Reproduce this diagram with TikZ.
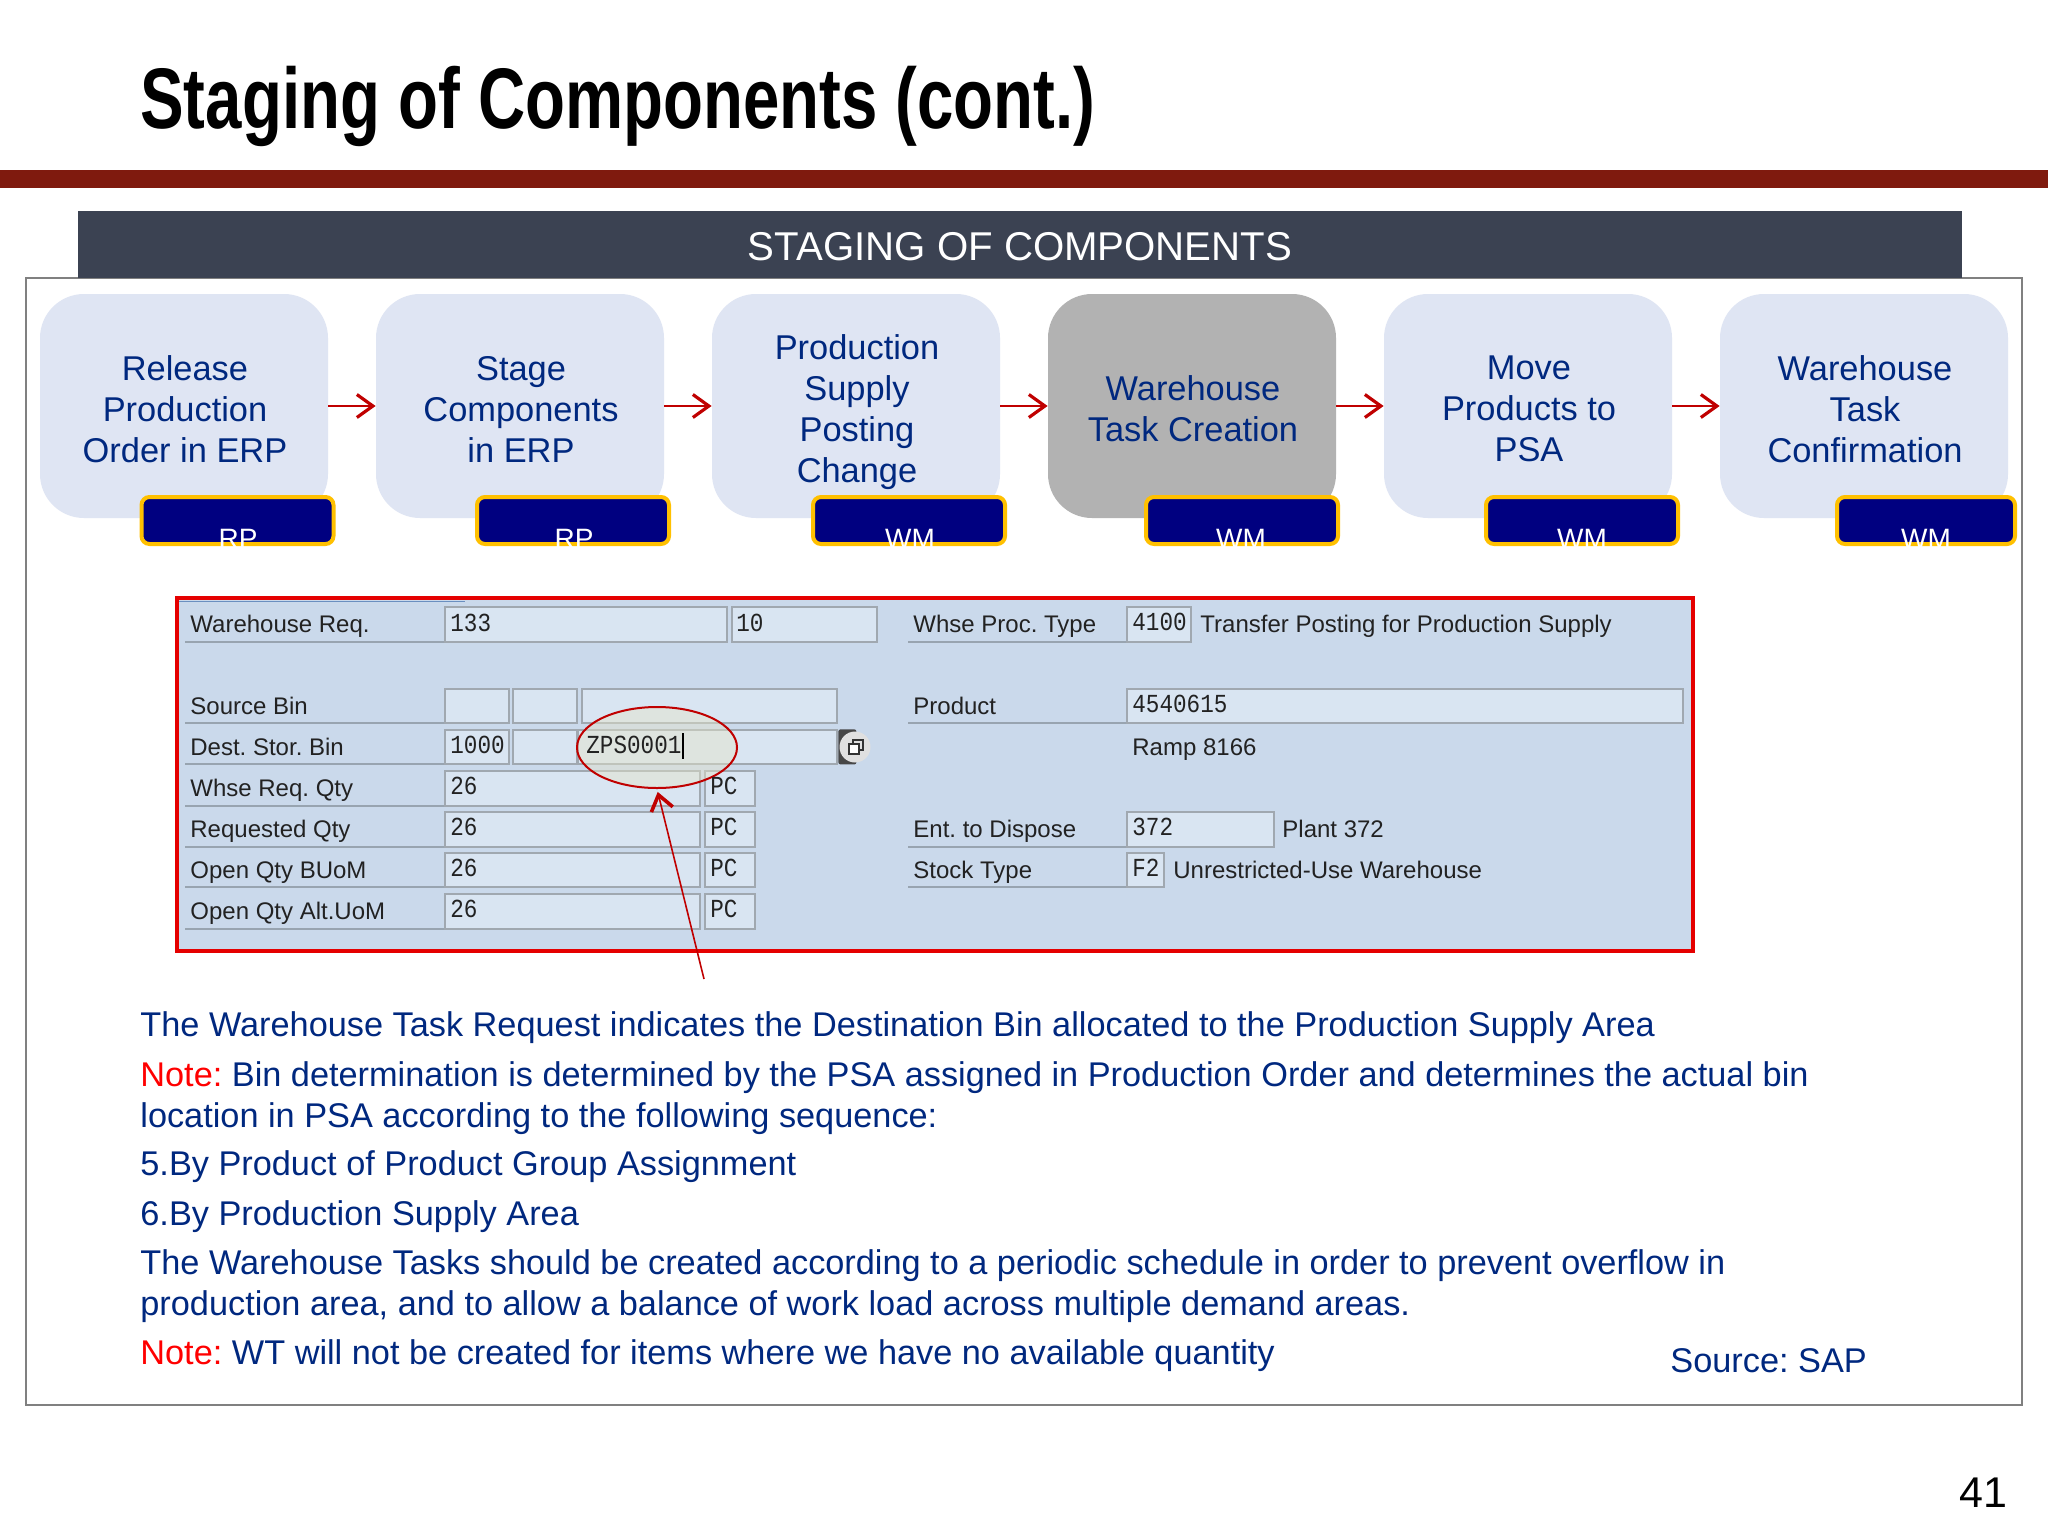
\documentclass[tikz,border=0pt]{standalone}
\usepackage{fontspec}
\setmainfont{Liberation Sans}
\newfontfamily\titlefont[FakeStretch=0.76]{Liberation Sans Bold}
\newfontfamily\monofont[FakeStretch=0.87]{Liberation Mono}
\usetikzlibrary{arrows.meta,shapes.geometric}
\definecolor{txtblue}{HTML}{00287F}
\definecolor{darkred}{HTML}{7F1A0E}
\definecolor{headbg}{HTML}{3B4252}
\definecolor{boxbg}{HTML}{DFE5F3}
\definecolor{boxgray}{HTML}{B2B2B2}
\definecolor{badgebg}{HTML}{000080}
\definecolor{badgeln}{HTML}{FFC000}
\definecolor{arrowred}{HTML}{C00000}
\definecolor{panelbg}{HTML}{CAD9EB}
\definecolor{fieldbg}{HTML}{D9E5F2}
\definecolor{fieldln}{HTML}{A0A8B0}
\definecolor{labln}{HTML}{98A4B0}
\definecolor{sapblack}{HTML}{222222}
\definecolor{framegray}{HTML}{808080}
\definecolor{stripblue}{HTML}{6A8FC0}
\tikzset{
  procbox/.style={rectangle,rounded corners=22pt,fill=boxbg,minimum width=144pt,minimum height=112pt,inner sep=0pt},
  proctxt/.style={text=txtblue,align=center,inner sep=0pt,font=\fontsize{17.2pt}{20.5pt}\selectfont},
  badge/.style={rectangle,rounded corners=4pt,fill=badgebg,draw=badgeln,line width=2pt,inner sep=0pt,anchor=north west},
  badgetxt/.style={text=white,anchor=base,inner sep=0pt,font=\fontsize{14pt}{14pt}\selectfont},
  flow/.style={draw=arrowred,line width=1.2pt,-{Straight Barb[length=8pt,width=11.5pt,line width=1.6pt]}},
  field/.style={rectangle,fill=fieldbg,draw=fieldln,line width=0.9pt,inner sep=0pt,anchor=north west},
  lab/.style={text=sapblack,anchor=base west,inner sep=0pt,font=\fontsize{12pt}{12pt}\selectfont},
  val/.style={text=sapblack,anchor=base west,inner sep=0pt,font=\monofont\fontsize{13pt}{13pt}\selectfont},
  labline/.style={draw=labln,line width=0.9pt},
  body/.style={text=txtblue,anchor=base west,inner sep=0pt,font=\fontsize{17.15pt}{20pt}\selectfont},
}
\newcommand\fld[5]{\node[field,minimum width={(#4-#2-0.6)*0.5pt},minimum height={(#5-#3-1.2)*0.5pt}] (#1) at (#2,#3) {};}
\begin{document}
\frenchspacing
\begin{tikzpicture}[x=0.5pt,y=-0.5pt]
\useasboundingbox (0,0) rectangle (2048,1536);
\fill[white] (0,0) rectangle (2048,1536);
% title
\node[anchor=base west,inner sep=0pt,font=\titlefont\fontsize{43pt}{46pt}\selectfont,text=black] (title) at (140,128) {Staging of Components (cont.)};
\fill[darkred] (0,170) rectangle (2048,188);
% frame + header
\draw[framegray,line width=0.8pt] (26,278) rectangle (2022,1405);
\node[rectangle,fill=headbg,minimum width=942pt,minimum height=33.5pt,inner sep=0pt] (head) at (1020,244.5) {};
\node[text=white,inner sep=0pt,font=\fontsize{20.1pt}{22pt}\selectfont] (headt) at (1020,247) {STAGING OF COMPONENTS};
% process boxes
\node[procbox] (b1) at (184,406) {};
\node[procbox] (b2) at (520,406) {};
\node[procbox] (b3) at (856,406) {};
\node[procbox,fill=boxgray] (b4) at (1192,406) {};
\node[procbox] (b5) at (1528,406) {};
\node[procbox] (b6) at (1864,406) {};
\node[proctxt] (bt1) at (185,409) {Release\\Production\\Order in ERP};
\node[proctxt] (bt2) at (521,409) {Stage\\Components\\in ERP};
\node[proctxt] (bt3) at (857,412) {Production\\Supply\\Posting\\Change};
\node[proctxt] (bt4) at (1193,409) {Warehouse\\Task Creation};
\node[proctxt] (bt5) at (1529,409) {Move\\Products to\\PSA};
\node[proctxt] (bt6) at (1865,409) {Warehouse\\Task\\Confirmation};
\foreach \a/\b in {b1/b2,b2/b3,b3/b4,b4/b5,b5/b6} \draw[flow] (\a.east) -- (\b.west);
% badges
\node[badge,minimum width=96pt,minimum height=23.5pt] (r1) at (139.5,495) {};
\node[badge,minimum width=96pt,minimum height=23.5pt] (r2) at (475,495) {};
\node[badge,minimum width=96pt,minimum height=23.5pt] (r3) at (811,495) {};
\node[badge,minimum width=96pt,minimum height=23.5pt] (r4) at (1144,495) {};
\node[badge,minimum width=96pt,minimum height=23.5pt] (r5) at (1484,495) {};
\node[badge,minimum width=89pt,minimum height=23.5pt] (r6) at (1835,495) {};
\node[badgetxt] (t1) at (238,548) {RP};
\node[badgetxt] (t2) at (574,548) {RP};
\node[badgetxt] (t3) at (910,548) {WM};
\node[badgetxt] (t4) at (1241,548) {WM};
\node[badgetxt] (t5) at (1582,548) {WM};
\node[badgetxt] (t6) at (1926,548) {WM};
% panel
\node[rectangle,draw=red!90!black,line width=2pt,fill=panelbg,inner sep=0pt,anchor=north west,minimum width=758.25pt,minimum height=176.5pt] (panel) at (174.5,596) {};
\draw[draw=stripblue,line width=0.5pt] (179,601) -- (465,601);
% left label lines
\foreach \y in {642,723,764,806,847,887,929} \draw[labline] (185,\y) -- (444,\y);
\foreach \y in {642,723,847,887} \draw[labline] (908,\y) -- (1126,\y);
% left fields
\fld{f1}{444}{606}{727}{642}
\fld{f2}{731}{606}{877}{642}
\fld{f3}{444}{688}{509}{723}
\fld{f4}{512}{688}{577}{723}
\fld{f5}{581}{688}{837}{723}
\fld{f6}{444}{729}{509}{764}
\fld{f7}{512}{729}{577}{764}
\fld{f8}{577}{729}{837}{764}
\fld{f9}{444}{770}{700}{806}
\fld{f10}{704}{770}{755}{806}
\fld{f11}{444}{811}{700}{847}
\fld{f12}{704}{811}{755}{847}
\fld{f13}{444}{852}{700}{887}
\fld{f14}{704}{852}{755}{887}
\fld{f15}{444}{893}{700}{929}
\fld{f16}{704}{893}{755}{929}
% right fields
\fld{g1}{1126}{606}{1191}{642}
\fld{g2}{1126}{688}{1683}{723}
\fld{g3}{1126}{811}{1274}{847}
\fld{g4}{1126}{852}{1164}{887}
% button
\node[rectangle,rounded corners=1pt,fill=black!72,inner sep=0pt,anchor=north west,minimum width=9pt,minimum height=17.5pt] (btn) at (838,729) {};
\node[circle,fill=black!12,inner sep=0pt,minimum size=15.5pt] (btnc) at (855,747) {};
\node[rectangle,draw=black!80,line width=0.7pt,inner sep=0pt,minimum size=5pt] (ic1) at (858,745) {};
\node[rectangle,draw=black!80,fill=white,line width=0.7pt,inner sep=0pt,minimum size=5pt] (ic2) at (854,749) {};
% callout ellipse
\node[ellipse,draw=arrowred,line width=1pt,fill=yellow!35!gray!35,fill opacity=0.45,inner sep=0pt,minimum width=80pt,minimum height=40.5pt] (ell) at (657,747.5) {};
% left labels
\node[lab] (l1) at (190,632) {Warehouse Req.};
\node[lab] (l2) at (190,714) {Source Bin};
\node[lab] (l3) at (190,755) {Dest. Stor. Bin};
\node[lab] (l4) at (190,796) {Whse Req. Qty};
\node[lab] (l5) at (190,837) {Requested Qty};
\node[lab] (l6) at (190,878) {Open Qty BUoM};
\node[lab] (l7) at (190,919) {Open Qty Alt.UoM};
% left values
\node[val] (v1) at (450,631) {133};
\node[val] (v2) at (736,631) {10};
\node[val] (v3) at (450,753) {1000};
\node[val] (v4) at (586,753) {ZPS0001};
\draw[black,line width=0.6pt] (683,733) -- (683,759);
\node[val] (v5) at (450,794) {26};
\node[val] (v6) at (710,794) {PC};
\node[val] (v7) at (450,835) {26};
\node[val] (v8) at (710,835) {PC};
\node[val] (v9) at (450,876) {26};
\node[val] (v10) at (710,876) {PC};
\node[val] (v11) at (450,917) {26};
\node[val] (v12) at (710,917) {PC};
% right labels
\node[lab] (m1) at (913,632) {Whse Proc. Type};
\node[lab] (m2) at (913,714) {Product};
\node[lab] (m3) at (913,837) {Ent. to Dispose};
\node[lab] (m4) at (913,878) {Stock Type};
\node[val] (w1) at (1132,630) {4100};
\node[lab] (w2) at (1200,632) {Transfer Posting for Production Supply};
\node[val] (w3) at (1132,712.5) {4540615};
\node[lab] (w4) at (1132,755) {Ramp 8166};
\node[val] (w5) at (1132,835) {372};
\node[lab] (w6) at (1282,837) {Plant 372};
\node[val] (w7) at (1132,876) {F2};
\node[lab] (w8) at (1173,878) {Unrestricted-Use Warehouse};
% callout arrow
\coordinate (cstart) at (704,979);
\draw[draw=arrowred,line width=0.8pt,shorten >=1.5pt,-{Straight Barb[length=7.5pt,width=11pt,line width=1.8pt]}] (cstart) -- (ell.south);
% body text
\node[body] (p1) at (140,1036) {The Warehouse Task Request indicates the Destination Bin allocated to the Production Supply Area};
\node[body] (p2) at (140,1086) {\textcolor{red}{Note:} Bin determination is determined by the PSA assigned in Production Order and determines the actual bin};
\node[body] (p3) at (140,1127) {location in PSA according to the following sequence:};
\node[body] (p4) at (140,1175) {5.By Product of Product Group Assignment};
\node[body] (p5) at (140,1225) {6.By Production Supply Area};
\node[body] (p6) at (140,1274) {The Warehouse Tasks should be created according to a periodic schedule in order to prevent overflow in};
\node[body] (p7) at (140,1315) {production area, and to allow a balance of work load across multiple demand areas.};
\node[body] (p8) at (140,1364) {\textcolor{red}{Note:} WT will not be created for items where we have no available quantity};
\node[body] (src) at (1670,1372) {Source: SAP};
\node[anchor=base west,inner sep=0pt,font=\fontsize{21.5pt}{24pt}\selectfont,text=black] (pg) at (1959,1507) {41};
\end{tikzpicture}
\end{document}
